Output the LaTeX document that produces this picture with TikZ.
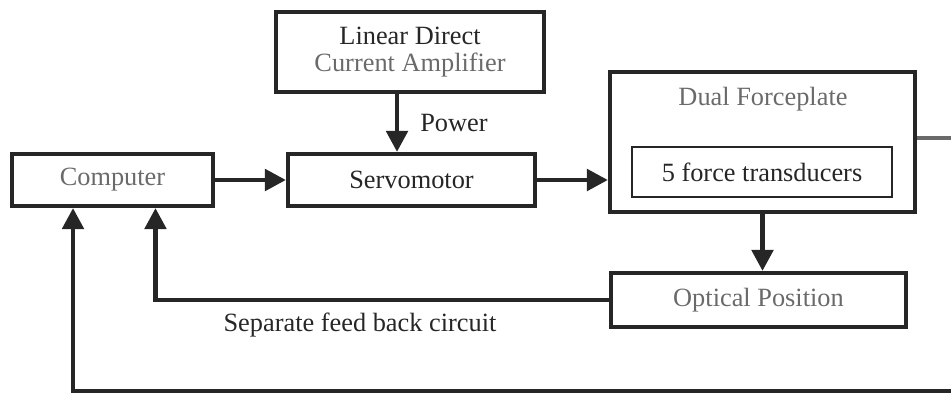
\documentclass[tikz,border=0pt]{standalone}
\usepackage{fontspec}
\setmainfont{Liberation Serif}
\usepackage{tikz}
\usetikzlibrary{arrows.meta, positioning}
\definecolor{ink}{HTML}{262626}
\definecolor{dim}{HTML}{6A6A6A}
\begin{document}
\begin{tikzpicture}[x=0.02cm, y=-0.02cm, font=\fontsize{15}{15.5}\selectfont,
    blk/.style={draw=ink, line width=2.3pt, inner sep=0pt, align=center},
    arr/.style={draw=ink, line width=2.8pt, -{Triangle[length=0.42cm, width=0.42cm]}}]
                \useasboundingbox (0,0) rectangle (951,396);
                \node [blk, minimum width=201*0.02cm, minimum height=52*0.02cm, text=dim] (comp) at (112.5,180) {Computer};
                \node [blk, minimum width=247*0.02cm, minimum height=52*0.02cm, text=ink] (servo) at (411.5,180) {Servomotor};
                \node [blk, minimum width=268*0.02cm, minimum height=80*0.02cm] (amp) at (410,52) {\textcolor{ink}{Linear Direct}\\\textcolor{dim}{Current Amplifier}};
                \node [blk, minimum width=305*0.02cm, minimum height=140*0.02cm] (dual) at (762.5,142) {};
                \node [text=dim] (dualtxt) at (763,99) {Dual Forceplate};
                \node [blk, line width=1.1pt, minimum width=260*0.02cm, minimum height=50*0.02cm, text=ink] (trans) at (762,172) {5 force transducers};
                \node [blk, minimum width=295*0.02cm, minimum height=54*0.02cm, text=dim] (opt) at (758.5,300) {Optical Position};
                \node [text=ink] (sep) at (360,325) {Separate feed back circuit};
                \coordinate (out) at (951,138);
                \coordinate (ret) at (951,391);
                \draw [arr] (comp.east) -- (servo.west);
                \draw [arr] (servo.east) -- (servo.east -| dual.west);
                \draw [arr] ([xshift=-0.26cm]amp.south) -- ([xshift=-0.26cm]amp.south |- servo.north)
                    node [midway, right=0.3cm, text=ink] (pwr) {Power};
                \draw [arr] (dual.south) -- (dual.south |- opt.north);
                \draw [arr] (opt.west) -| ([xshift=0.86cm]comp.south);
                \draw [arr] (ret) -| ([xshift=-0.79cm]comp.south);
                \draw [draw=dim, line width=2.8pt] (dual.east |- out) -- (out);
            \end{tikzpicture}
\end{document}
